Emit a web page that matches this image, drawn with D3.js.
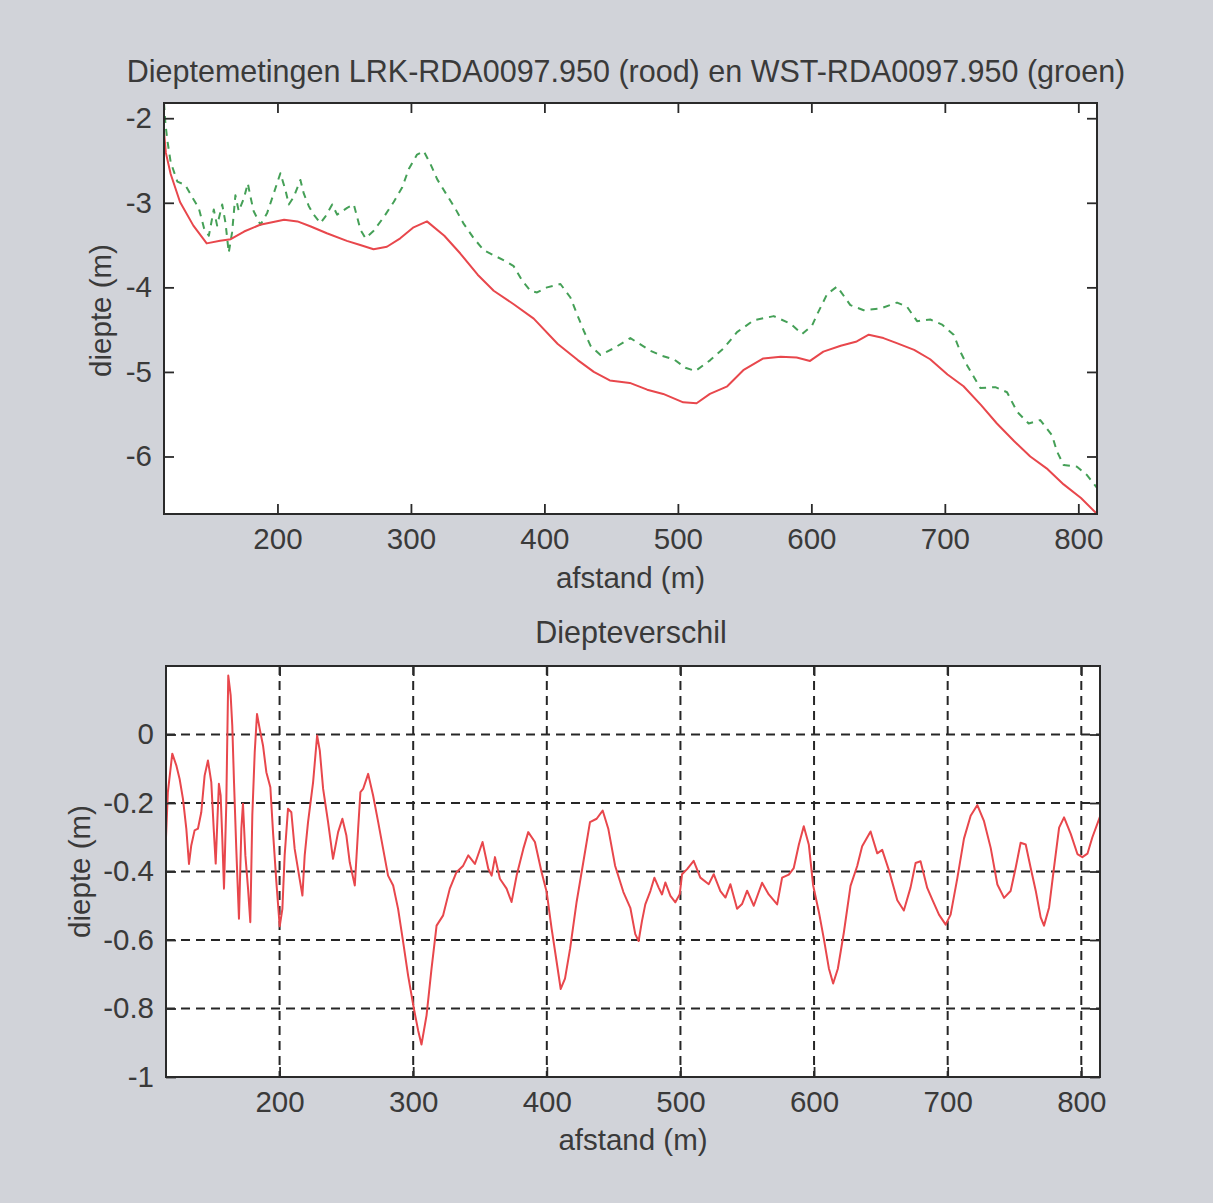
<!DOCTYPE html>
<html>
<head>
<meta charset="utf-8">
<script src="https://cdn.jsdelivr.net/npm/d3@7"></script>
<style>
  html, body { margin: 0; padding: 0; background: #d1d3d9; }
  svg { display: block; }
  text { font-family: "Liberation Sans", Arial, sans-serif; fill: #3a3a3a; }
</style>
</head>
<body>
<svg id="chart" width="1213" height="1203"></svg>
<script>
// ---------- data ----------
const titleTop = "Dieptemetingen LRK-RDA0097.950 (rood) en WST-RDA0097.950 (groen)";
const titleBottom = "Diepteverschil";
const xLabel = "afstand (m)";
const yLabel = "diepte (m)";

const xTicks = [200, 300, 400, 500, 600, 700, 800];
const yTicksTop = [-2, -3, -4, -5, -6];
const yTicksBottom = [0, -0.2, -0.4, -0.6, -0.8, -1];

// LRK-RDA0097.950 (rood)
const xRed = [115, 116.4, 120, 127, 137, 147, 157, 165, 175, 187, 205, 215, 225, 237, 252, 262, 272, 282, 292, 302,
  312, 325, 337, 350, 362, 377, 392, 410, 425, 437, 449, 464, 477, 489, 504, 514, 524, 537, 549, 564,
  577, 589, 599, 609, 622, 634, 643, 654, 664, 677, 689, 702, 714, 727, 739, 752, 764, 777, 789, 802, 814];
const yRed = [-2.16, -2.41, -2.66, -2.99, -3.27, -3.48, -3.45, -3.43, -3.34, -3.26, -3.20, -3.22, -3.28, -3.36, -3.45, -3.50, -3.55, -3.52, -3.42, -3.29,
  -3.22, -3.39, -3.60, -3.85, -4.04, -4.20, -4.37, -4.67, -4.86, -5.00, -5.10, -5.13, -5.21, -5.26, -5.36, -5.37, -5.26, -5.17, -4.98, -4.84,
  -4.82, -4.83, -4.87, -4.76, -4.69, -4.64, -4.56, -4.60, -4.66, -4.74, -4.85, -5.03, -5.17, -5.39, -5.61, -5.82, -6.00, -6.15, -6.33, -6.49, -6.68];

// WST-RDA0097.950 (groen)
const xGreen = [115, 116, 117.4, 120, 125, 131, 136, 141, 145, 148.6, 152.3, 154.8, 158.6, 161.1, 163.5, 166, 168.5, 171, 174.8, 177.8,
  179.8, 182.2, 187.3, 192.3, 197.2, 202.2, 206, 208.5, 212.2, 217.2, 219.7, 223.5, 227.2, 232.2, 236, 241, 244.7, 248.5, 252.2, 257.2,
  259.7, 262.2, 266, 272.1, 279.6, 287.1, 293.4, 298.4, 304.6, 309.6, 314.6, 319.6, 325.8, 333.3, 339.6, 347.1, 354.5, 362, 370.8, 377,
  383.3, 389.5, 394.5, 402, 412, 419.5, 424.5, 429.4, 434.5, 442, 452, 464.4, 479.4, 488.2, 496.9, 505.6, 513.1, 524.3, 534.3, 544.3,
  556.8, 571.8, 584.3, 593.1, 600.6, 604.3, 611.8, 619.3, 629.2, 639.2, 651.7, 664.2, 671.7, 679.2, 689.1, 697.9, 706.6, 711.6, 716.6, 726.6,
  737.8, 746.6, 754.1, 762.8, 771.5, 780.3, 784, 789, 799, 806.5, 814];
const yGreen = [-1.82, -2.05, -2.25, -2.52, -2.75, -2.79, -2.93, -3.06, -3.30, -3.39, -3.08, -3.27, -3.02, -3.24, -3.59, -3.35, -2.91, -3.10, -2.95, -2.77,
  -2.93, -3.10, -3.26, -3.12, -2.89, -2.65, -2.85, -3.02, -2.93, -2.73, -2.89, -3.04, -3.14, -3.24, -3.16, -3.02, -3.14, -3.10, -3.06, -3.02,
  -3.17, -3.32, -3.42, -3.33, -3.17, -2.99, -2.82, -2.60, -2.43, -2.39, -2.54, -2.72, -2.88, -3.07, -3.25, -3.42, -3.56, -3.62, -3.69, -3.75,
  -3.92, -4.04, -4.06, -4.00, -3.96, -4.12, -4.32, -4.51, -4.69, -4.80, -4.72, -4.60, -4.75, -4.81, -4.85, -4.95, -4.99, -4.86, -4.72, -4.53,
  -4.39, -4.34, -4.43, -4.55, -4.45, -4.32, -4.08, -3.99, -4.21, -4.27, -4.25, -4.18, -4.23, -4.40, -4.38, -4.44, -4.56, -4.76, -4.92, -5.19,
  -5.18, -5.24, -5.47, -5.61, -5.57, -5.75, -5.94, -6.10, -6.12, -6.22, -6.37];

// Diepteverschil
const xDiff = [115, 116.4, 119.7, 122.7, 125.2, 127.7, 130.2, 132.2, 133.9, 136.4, 138.9, 141.4, 143.9, 146.4, 148.9, 150.7, 152.2, 153.4, 154.6, 155.9,
  157.1, 158.4, 160.1, 161.6, 163.4, 164.6, 165.9, 167.6, 169.6, 171.4, 172.6, 174.4, 176.4, 178.1, 179.6, 181.4, 183.1, 185.1, 187.6, 190.1,
  193.1, 195.1, 197.6, 200.1, 202.1, 203.8, 206.3, 208.8, 211.3, 214.6, 217.1, 218.8, 221.3, 225.1, 228.1, 230.1, 232.6, 236.3, 240, 243.8,
  247, 250, 252.5, 256.3, 258.8, 260.5, 262.5, 266.3, 270, 273.8, 277.5, 281.2, 285, 288.7, 292.5, 296.2, 300.5, 303.7, 306.2, 310,
  313.7, 317.5, 322.4, 327.4, 332.4, 337.4, 341.2, 346.2, 351.9, 356.2, 358.7, 361.2, 364.9, 369.9, 373.6, 377.4, 382.4, 386.1, 391.1, 396.1,
  399.9, 403.6, 407.4, 410.4, 413.6, 417.4, 422.3, 427.3, 432.3, 437.3, 441.8, 446, 451.1, 457.3, 462.5, 466.2, 468.7, 471.2, 473.7, 477.5,
  480.5, 483.7, 486.2, 488.7, 492.5, 496.2, 499.5, 501.2, 505, 509.9, 514.9, 521.2, 524.9, 529.9, 533.7, 537.4, 542.4, 546.1, 549.9, 554.9,
  561.1, 566.1, 572.4, 576.1, 581.1, 584.8, 588.6, 592.3, 596.1, 599.3, 603.6, 607.3, 611.1, 614.3, 617.8, 622.3, 627.3, 632.3, 636, 642.3,
  647.3, 651, 656, 662.3, 667.2, 672.2, 676, 679.7, 684.7, 688.5, 693.5, 698.5, 702.2, 707.2, 712.2, 717.2, 722.2, 727.2, 732.2, 737.2,
  742.2, 747.1, 750.9, 754.6, 758.4, 762.1, 765.9, 769.6, 772.1, 775.9, 779.6, 783.4, 787.1, 792.1, 797.1, 800.8, 804.6, 808.3, 814];
const yDiff = [-0.30, -0.168, -0.056, -0.09, -0.13, -0.188, -0.275, -0.378, -0.324, -0.28, -0.275, -0.227, -0.12, -0.076, -0.139, -0.275, -0.377, -0.256, -0.144, -0.178,
  -0.30, -0.45, -0.207, 0.172, 0.114, 0.026, -0.139, -0.334, -0.538, -0.275, -0.202, -0.353, -0.45, -0.548, -0.236, -0.052, 0.06, 0.017, -0.032, -0.11,
  -0.154, -0.285, -0.431, -0.56, -0.509, -0.353, -0.217, -0.227, -0.334, -0.412, -0.47, -0.353, -0.256, -0.139, -0.003, -0.047, -0.159, -0.256, -0.363, -0.285,
  -0.246, -0.295, -0.373, -0.441, -0.275, -0.168, -0.159, -0.115, -0.178, -0.256, -0.334, -0.412, -0.441, -0.509, -0.606, -0.704, -0.80, -0.864, -0.905, -0.82,
  -0.684, -0.558, -0.528, -0.45, -0.402, -0.383, -0.353, -0.378, -0.314, -0.392, -0.412, -0.358, -0.421, -0.45, -0.489, -0.412, -0.334, -0.285, -0.314, -0.402,
  -0.46, -0.567, -0.665, -0.743, -0.713, -0.626, -0.489, -0.373, -0.256, -0.246, -0.222, -0.275, -0.383, -0.46, -0.506, -0.583, -0.603, -0.545, -0.496, -0.457,
  -0.418, -0.447, -0.467, -0.432, -0.471, -0.49, -0.466, -0.408, -0.393, -0.369, -0.418, -0.437, -0.408, -0.457, -0.476, -0.437, -0.509, -0.495, -0.456, -0.50,
  -0.433, -0.467, -0.496, -0.418, -0.409, -0.39, -0.322, -0.268, -0.322, -0.44, -0.518, -0.596, -0.683, -0.727, -0.684, -0.578, -0.442, -0.384, -0.326, -0.283,
  -0.347, -0.337, -0.396, -0.484, -0.514, -0.447, -0.375, -0.37, -0.448, -0.482, -0.526, -0.555, -0.526, -0.42, -0.304, -0.237, -0.206, -0.253, -0.331, -0.438,
  -0.477, -0.457, -0.389, -0.316, -0.321, -0.389, -0.456, -0.534, -0.558, -0.505, -0.388, -0.272, -0.242, -0.29, -0.349, -0.358, -0.348, -0.30, -0.24];

// ---------- drawing ----------
const svg = d3.select("#chart");
const FS = 29.5;       // tick / axis label size
const FS_TITLE = 30.5; // title size
const textCol = "#3a3a3a";
const axisCol = "#2a2a2a";

function panel(cfg) {
  const { left, right, top, bottom, yDomain, yTicks, yFmt } = cfg;
  const x = d3.scaleLinear().domain([115, 814]).range([left, right]);
  const y = d3.scaleLinear().domain(yDomain).range([bottom, top]);
  const g = svg.append("g");

  g.append("rect").attr("x", left).attr("y", top)
    .attr("width", right - left).attr("height", bottom - top).attr("fill", "#ffffff");

  const clipId = "clip" + cfg.id;
  svg.append("clipPath").attr("id", clipId).append("rect")
    .attr("x", left).attr("y", top).attr("width", right - left).attr("height", bottom - top);

  if (cfg.grid) {
    const gg = g.append("g").attr("stroke", "#262626").attr("stroke-width", 2)
      .attr("stroke-dasharray", "9,6").attr("fill", "none");
    xTicks.forEach(t => gg.append("line").attr("x1", x(t)).attr("x2", x(t)).attr("y1", top).attr("y2", bottom));
    yTicks.forEach(t => gg.append("line").attr("x1", left).attr("x2", right).attr("y1", y(t)).attr("y2", y(t)));
  }

  const lines = g.append("g").attr("clip-path", `url(#${clipId})`);
  cfg.series.forEach(s => {
    const pts = s.xs.map((v, i) => [v, s.ys[i]]);
    lines.append("path")
      .attr("d", d3.line().x(d => x(d[0])).y(d => y(d[1]))(pts))
      .attr("fill", "none").attr("stroke", s.color).attr("stroke-width", s.width)
      .attr("stroke-dasharray", s.dash || null).attr("stroke-linejoin", "round");
  });

  const tick = 10;
  const axB = g.append("g").attr("transform", `translate(0,${bottom})`)
    .call(d3.axisBottom(x).tickValues(xTicks).tickSize(-tick).tickPadding(14).tickFormat(d3.format("d")));
  const axT = g.append("g").attr("transform", `translate(0,${top})`)
    .call(d3.axisTop(x).tickValues(xTicks).tickSize(-tick).tickFormat(""));
  const axL = g.append("g").attr("transform", `translate(${left},0)`)
    .call(d3.axisLeft(y).tickValues(yTicks).tickSize(-tick).tickPadding(12).tickFormat(yFmt));
  const axR = g.append("g").attr("transform", `translate(${right},0)`)
    .call(d3.axisRight(y).tickValues(yTicks).tickSize(-tick).tickFormat(""));
  [axB, axT, axL, axR].forEach(a => {
    a.select(".domain").remove();
    a.selectAll(".tick line").attr("stroke", axisCol).attr("stroke-width", 1.8);
    a.selectAll("text").attr("font-size", FS).attr("fill", textCol)
      .attr("font-family", '"Liberation Sans", Arial, sans-serif');
  });
  axB.selectAll("text").attr("dy", "0.72em");

  g.append("rect").attr("x", left).attr("y", top)
    .attr("width", right - left).attr("height", bottom - top)
    .attr("fill", "none").attr("stroke", axisCol).attr("stroke-width", 2);

  g.append("text").attr("x", cfg.titleX).attr("y", cfg.titleY).attr("text-anchor", "middle")
    .attr("font-size", FS_TITLE).text(cfg.title);
  g.append("text").attr("x", (left + right) / 2).attr("y", cfg.xlabY).attr("text-anchor", "middle")
    .attr("font-size", FS).text(xLabel);
  g.append("text").attr("transform", `translate(${cfg.ylabX},${(top + bottom) / 2 + cfg.ylabDy}) rotate(-90)`)
    .attr("text-anchor", "middle").attr("font-size", FS).text(yLabel);
}

panel({
  id: "top", left: 164, right: 1097, top: 103, bottom: 514,
  yDomain: [-6.68, -1.82], yTicks: yTicksTop, yFmt: d3.format("d"),
  title: titleTop, titleX: 626, titleY: 82, xlabY: 588, ylabX: 111, ylabDy: 2,
  grid: false,
  series: [
    { xs: xGreen, ys: yGreen, color: "#45a057", width: 2, dash: "7,6" },
    { xs: xRed, ys: yRed, color: "#e8474c", width: 2 }
  ]
});

panel({
  id: "bot", left: 166, right: 1100, top: 666, bottom: 1077,
  yDomain: [-1, 0.2], yTicks: yTicksBottom,
  yFmt: d => (d === 0 ? "0" : d === -1 ? "-1" : "-" + d3.format(".1f")(Math.abs(d))),
  title: titleBottom, titleX: 631, titleY: 643, xlabY: 1150, ylabX: 90, ylabDy: 0,
  grid: true,
  series: [
    { xs: xDiff, ys: yDiff, color: "#e8474c", width: 2 }
  ]
});

// use ASCII hyphen for negative tick labels (as in the original)
svg.selectAll(".tick text").each(function () {
  const t = d3.select(this);
  t.text(t.text().replace("−", "-"));
});
</script>
</body>
</html>
